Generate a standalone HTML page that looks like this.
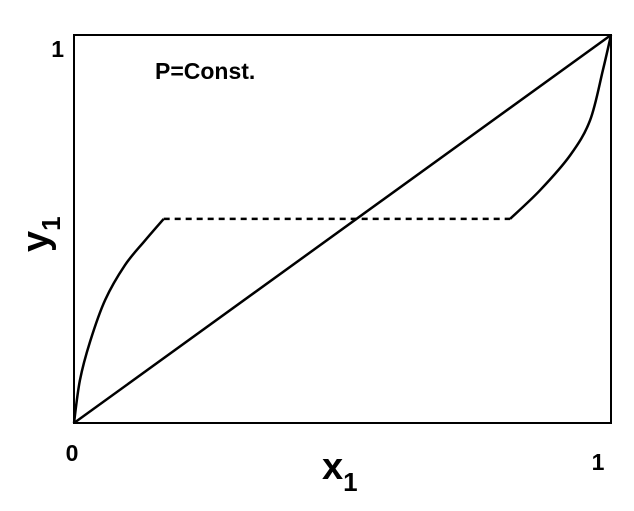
<!DOCTYPE html>
<html><head><meta charset="utf-8"><style>
body{margin:0;background:#fff;}
svg{display:block;font-family:"Liberation Sans",Arial,sans-serif;font-weight:bold;}
</style></head><body>
<svg id="chart" width="634" height="511">
<rect x="74" y="35" width="537" height="388" fill="none" stroke="#000" stroke-width="2"/>
<text x="64" y="57" font-size="23" text-anchor="end">1</text>
<text x="72" y="461" font-size="23" text-anchor="middle">0</text>
<text x="598" y="470" font-size="23" text-anchor="middle">1</text>
<text x="322" y="479" font-size="38">x<tspan font-size="26" dy="12">1</tspan></text>
<text transform="translate(48,252) rotate(-90)" font-size="38">y<tspan font-size="26" dy="12">1</tspan></text>
<text x="155" y="79" font-size="23">P=Const.</text>
<g id="marks"></g>
</svg>
<script>
const diagX=[0,1];
const diagY=[0,1];
const leftX=[0,0.011,0.03,0.058,0.095,0.132,0.167];
const leftY=[0,0.11,0.21,0.317,0.407,0.47,0.526];
const tieX=[0.167,0.812];
const tieY=[0.526,0.526];
const rightX=[0.812,0.868,0.924,0.961,0.985,1];
const rightY=[0.526,0.6,0.69,0.78,0.91,1];
const X0=74,X1=611,Y0=423,Y1=35;
const sx=v=>X0+v*(X1-X0), sy=v=>Y0-v*(Y0-Y1);
const g=document.getElementById('marks');
function line(xs,ys,name,dash){
  const p=document.createElementNS('http://www.w3.org/2000/svg','path');
  let d='';
  if(xs.length>2){
    const P=xs.map((x,i)=>[sx(x),sy(ys[i])]);
    d='M'+P[0][0]+','+P[0][1];
    for(let i=0;i<P.length-1;i++){
      const p0=P[Math.max(i-1,0)],p1=P[i],p2=P[i+1],p3=P[Math.min(i+2,P.length-1)];
      const c1=[p1[0]+(p2[0]-p0[0])/6,p1[1]+(p2[1]-p0[1])/6];
      const c2=[p2[0]-(p3[0]-p1[0])/6,p2[1]-(p3[1]-p1[1])/6];
      d+=' C'+c1+' '+c2+' '+p2;
    }
  } else d='M'+sx(xs[0])+','+sy(ys[0])+' L'+sx(xs[1])+','+sy(ys[1]);
  p.setAttribute('d',d);
  p.setAttribute('fill','none');p.setAttribute('stroke','#000');p.setAttribute('stroke-width','2.5');
  if(dash)p.setAttribute('stroke-dasharray','6,5');
  
  
  g.appendChild(p);
}
line(diagX,diagY,'diagonal-line');
line(leftX,leftY,'left-equilibrium-curve');
line(tieX,tieY,'tie-line-dashed',true);
line(rightX,rightY,'right-equilibrium-curve');
</script>
</body></html>
